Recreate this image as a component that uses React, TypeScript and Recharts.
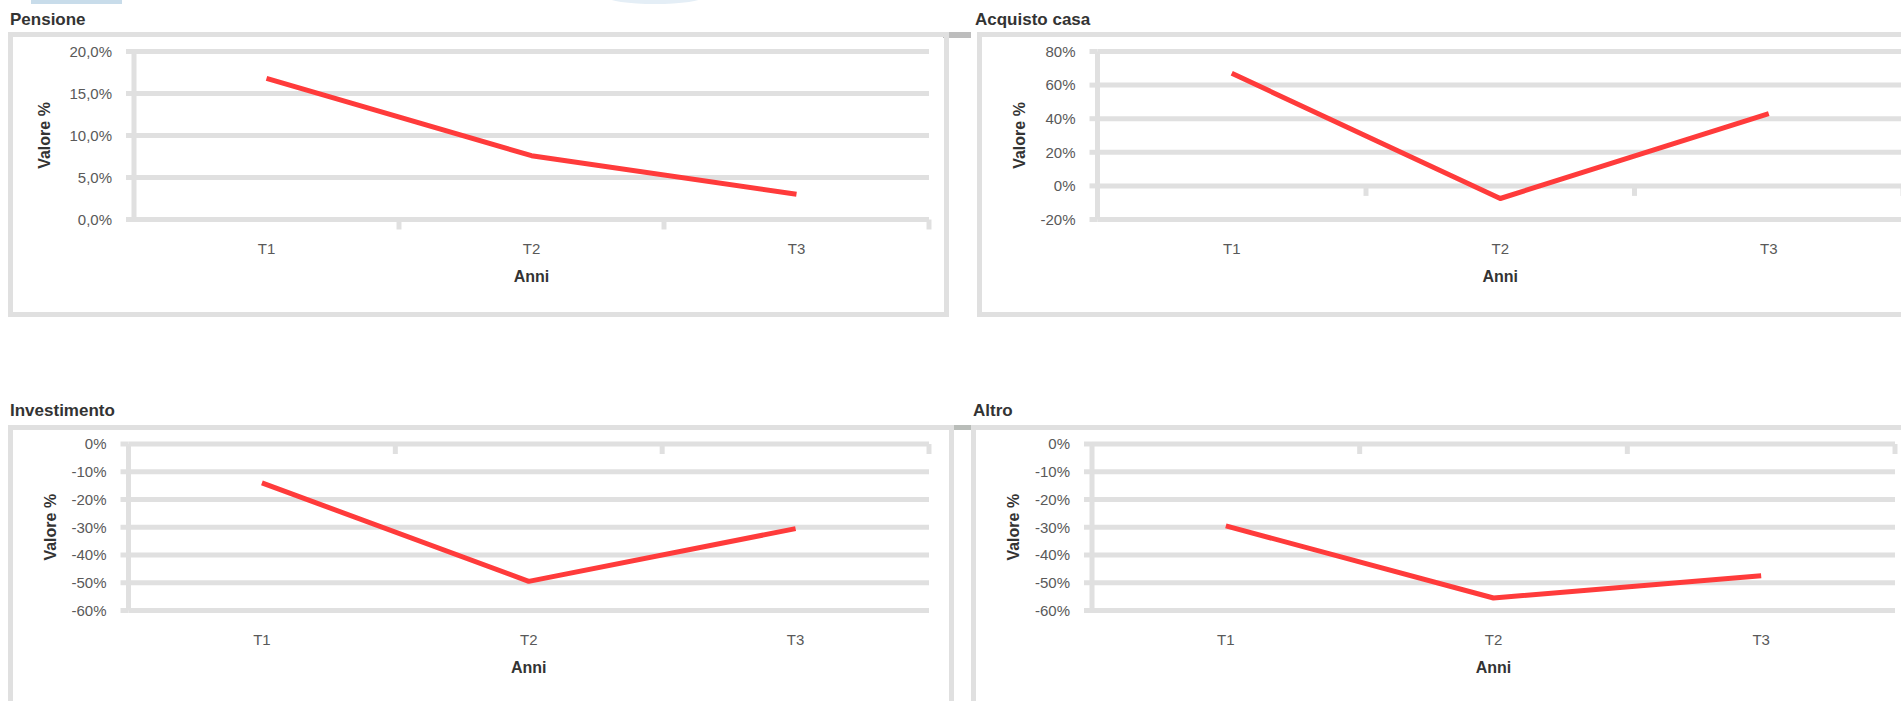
import React from 'react';
import { LineChart, Line, XAxis, YAxis, CartesianGrid, ReferenceDot, Label } from 'recharts';

// ---- data ----
const periods = ['T1', 'T2', 'T3'];

const pensioneValues = [16.8, 7.6, 3.0];
const casaValues = [67, -7.5, 43];
const investimentoValues = [-14, -49.5, -30.5];
const altroValues = [-29.5, -55.5, -47.5];

const pensioneTicks = [0, 5, 10, 15, 20];
const casaTicks = [-20, 0, 20, 40, 60, 80];
const lossTicks = [-60, -50, -40, -30, -20, -10, 0];

const xAxisTitle = 'Anni';
const yAxisTitle = 'Valore %';

const panelTitles = ['Pensione', 'Acquisto casa', 'Investimento', 'Altro'];

// ---- styling ----
const FONT = '"Liberation Sans", Arial, Helvetica, sans-serif';
const GRID = '#e0e0e0';
const LINE = '#ff3b3b';
const TICK_TEXT = '#595959';
const TITLE_TEXT = '#333333';

const percentDecimal = (v: number) => `${v.toFixed(1).replace('.', ',')}%`;
const percentInt = (v: number) => `${v}%`;

type Plot = { l: number; r: number; t: number; b: number };

type PanelProps = {
  title: string;
  values: number[];
  ticks: number[];
  format: (v: number) => string;
  plot: Plot;
  yTitleOffset: number;
  frame: { left: number; top: number; width: number; height: number };
  titlePos: { left: number; top: number };
};

const Y_AXIS_W = 100;
const X_AXIS_H = 70;

function CategoryTick(props: any) {
  const { cx, cy } = props;
  return <line x1={cx} x2={cx} y1={cy} y2={cy + 10} stroke={GRID} strokeWidth={5} />;
}

function MiniChart({ values, ticks, format, plot, yTitleOffset }: PanelProps) {
  const rows = periods.map((p, i) => ({ pos: i + 0.5, period: p, value: values[i] }));
  const chartLeft = Math.floor(plot.l) - Y_AXIS_W - 10;
  const chartTop = Math.floor(plot.t) - 20;
  const width = Math.ceil(plot.r) + 12 - chartLeft;
  const height = Math.ceil(plot.b) + X_AXIS_H + 20 - chartTop;
  const margin = {
    left: plot.l - Y_AXIS_W - chartLeft,
    top: plot.t - chartTop,
    right: width - (plot.r - chartLeft),
    bottom: height - (plot.b - chartTop) - X_AXIS_H,
  };
  const domain: [number, number] = [Math.min(...ticks), Math.max(...ticks)];
  const boundaries = periods.map((_, i) => i + 1);

  return (
    <div style={{ position: 'absolute', left: chartLeft, top: chartTop, width, height }}>
      <LineChart width={width} height={height} data={rows} margin={margin}>
        <CartesianGrid vertical={false} stroke={GRID} strokeWidth={5} />
        <XAxis
          type="number"
          dataKey="pos"
          domain={[0, periods.length]}
          ticks={periods.map((_, i) => i + 0.5)}
          interval={0}
          allowDataOverflow
          tickFormatter={(v: number) => periods[Math.floor(v)]}
          axisLine={false}
          tickLine={false}
          tickSize={6}
          tickMargin={17.5}
          height={X_AXIS_H}
          tick={{ fill: TICK_TEXT, fontSize: 15, fontFamily: FONT }}
        >
          <Label
            value={xAxisTitle}
            position="insideBottom"
            offset={7.5}
            style={{ fill: TITLE_TEXT, fontSize: 16, fontWeight: 700, fontFamily: FONT }}
          />
        </XAxis>
        <YAxis
          type="number"
          domain={domain}
          ticks={ticks}
          interval={0}
          allowDataOverflow
          width={Y_AXIS_W}
          tickFormatter={format}
          axisLine={{ stroke: GRID, strokeWidth: 5 }}
          tickLine={{ stroke: GRID, strokeWidth: 5 }}
          tickSize={8}
          tickMargin={14}
          tick={{ fill: TICK_TEXT, fontSize: 15, fontFamily: FONT }}
        >
          <Label
            value={yAxisTitle}
            angle={-90}
            position="insideLeft"
            offset={yTitleOffset}
            style={{ textAnchor: 'middle', fill: TITLE_TEXT, fontSize: 16, fontWeight: 700, fontFamily: FONT }}
          />
        </YAxis>
        {boundaries.map((b) => (
          <ReferenceDot key={b} x={b} y={0} r={0} ifOverflow="visible" shape={CategoryTick} />
        ))}
        <Line
          type="linear"
          dataKey="value"
          stroke={LINE}
          strokeWidth={5}
          strokeLinejoin="round"
          dot={false}
          activeDot={false}
          isAnimationActive={false}
        />
      </LineChart>
    </div>
  );
}

function Panel(props: PanelProps) {
  const { title, frame, titlePos } = props;
  return (
    <>
      <div
        style={{
          position: 'absolute',
          left: frame.left,
          top: frame.top,
          width: frame.width,
          height: frame.height,
          border: `5px solid ${GRID}`,
          boxSizing: 'border-box',
        }}
      />
      <div
        style={{
          position: 'absolute',
          left: titlePos.left,
          top: titlePos.top,
          fontFamily: FONT,
          fontSize: 17,
          lineHeight: '17px',
          fontWeight: 700,
          color: TITLE_TEXT,
          whiteSpace: 'nowrap',
        }}
      >
        {title}
      </div>
      <MiniChart {...props} />
    </>
  );
}

const panels: PanelProps[] = [
  {
    title: panelTitles[0],
    values: pensioneValues,
    ticks: pensioneTicks,
    format: percentDecimal,
    plot: { l: 134, r: 929, t: 51.5, b: 219.5 },
    yTitleOffset: 10.5,
    frame: { left: 8, top: 32, width: 941, height: 285 },
    titlePos: { left: 10, top: 11 },
  },
  {
    title: panelTitles[1],
    values: casaValues,
    ticks: casaTicks,
    format: percentInt,
    plot: { l: 1097.5, r: 1903, t: 51.5, b: 219.5 },
    yTitleOffset: 21.5,
    frame: { left: 977, top: 32, width: 1000, height: 285 },
    titlePos: { left: 975, top: 11 },
  },
  {
    title: panelTitles[2],
    values: investimentoValues,
    ticks: lossTicks,
    format: percentInt,
    plot: { l: 128.5, r: 929, t: 444, b: 610.5 },
    yTitleOffset: 21.5,
    frame: { left: 8, top: 425, width: 946, height: 400 },
    titlePos: { left: 10, top: 402 },
  },
  {
    title: panelTitles[3],
    values: altroValues,
    ticks: lossTicks,
    format: percentInt,
    plot: { l: 1092, r: 1895, t: 444, b: 610.5 },
    yTitleOffset: 21.5,
    frame: { left: 971, top: 425, width: 1000, height: 400 },
    titlePos: { left: 973, top: 402 },
  },
];

export default function App() {
  return (
    <div
      style={{
        position: 'absolute',
        left: 0,
        top: 0,
        width: 1901,
        height: 701,
        overflow: 'hidden',
        background: '#ffffff',
      }}
    >
      {/* window chrome fragments along the top edge */}
      <div style={{ position: 'absolute', left: 31, top: 0, width: 91, height: 4, background: '#c8dcea' }} />
      <div
        style={{
          position: 'absolute',
          left: 607,
          top: -10,
          width: 96,
          height: 14,
          borderRadius: '50%',
          background: '#e4eef6',
        }}
      />
      {/* joints where neighbouring frames meet */}
      <div style={{ position: 'absolute', left: 943, top: 32, width: 28, height: 6, background: '#bdbdbd' }} />
      <div style={{ position: 'absolute', left: 949, top: 425, width: 28, height: 5, background: '#b9bdb9' }} />
      {panels.map((p) => (
        <Panel key={p.title} {...p} />
      ))}
    </div>
  );
}
